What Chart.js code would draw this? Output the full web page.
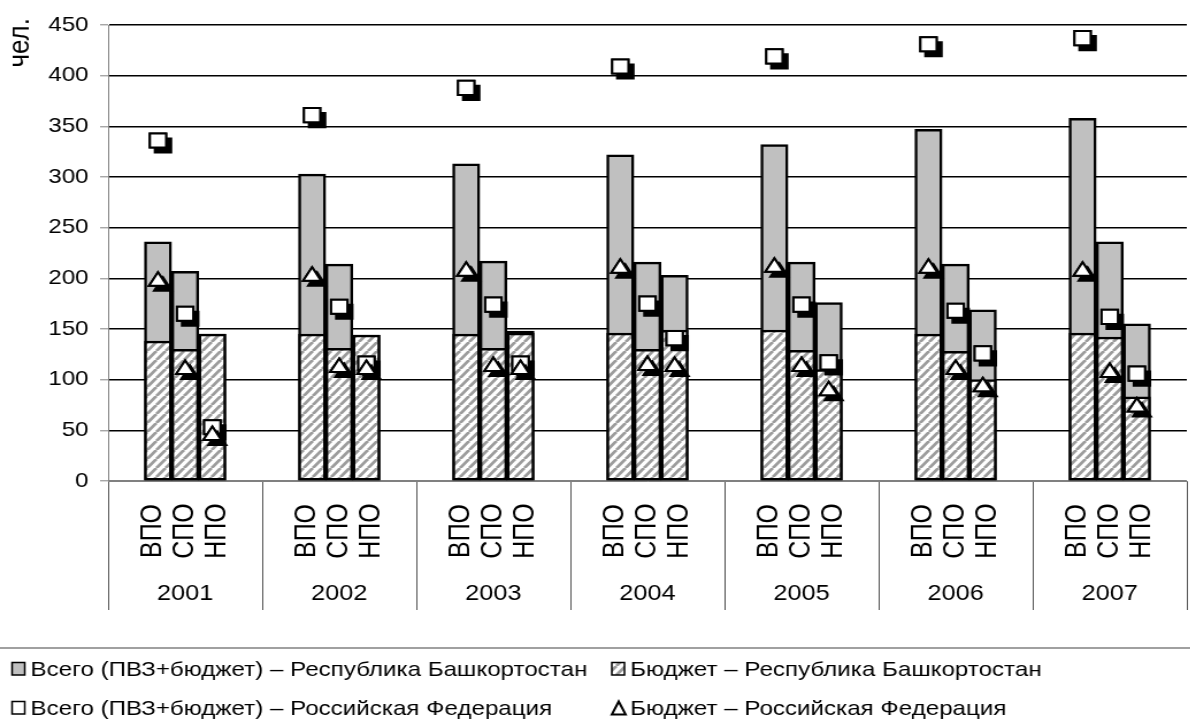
<!DOCTYPE html>
<html>
<head>
<meta charset="utf-8">
<script src="https://cdn.jsdelivr.net/npm/chart.js@4.4.1/dist/chart.umd.min.js"></script>
<style>
  html, body { margin: 0; padding: 0; background: #fff; overflow: hidden; width: 1190px; height: 727px; }
  #wrap { position: absolute; left: 0; top: 0; width: 1044px; height: 727px; transform: scaleX(1.15); transform-origin: 0 0; }
  canvas { display: block; }
</style>
</head>
<body>
<div id="wrap"><canvas id="chart" width="1044" height="727"></canvas></div>
<script>
// Years and education levels (outer and inner category labels)
const years = ['2001', '2002', '2003', '2004', '2005', '2006', '2007'];
const levels = ['ВПО', 'СПО', 'НПО'];

// Values per year, in the order ВПО, СПО, НПО
const rbTotal  = [236, 207, 145,  303, 214, 144,  313, 217, 148,  322, 216, 203,  332, 216, 176,  347, 214, 169,  358, 236, 155];
const rbBudget = [138, 130, 145,  145, 131, 144,  145, 131, 146,  146, 130, 149,  149, 129, 110,  145, 128, 100,  146, 142,  83];
const rfTotal  = [336, 165,  53,  361, 172, 116,  388, 174, 116,  409, 175, 141,  419, 174, 117,  431, 168, 126,  437, 162, 106];
const rfBudget = [197, 110,  45,  202, 112, 110,  207, 113, 110,  210, 114, 113,  211, 113,  89,  210, 110,  93,  207, 107,  73];

const yMax = 450;
const yStep = 50;
const unitLabel = 'чел.';
const legendLabels = [
  'Всего (ПВЗ+бюджет) – Республика Башкортостан',
  'Бюджет – Республика Башкортостан',
  'Всего (ПВЗ+бюджет) – Российская Федерация',
  'Бюджет – Российская Федерация'
];

const FONT = '"Liberation Sans", Arial, sans-serif';
const BAR_STEP = 0.1763;   // spacing of the three bars inside a year, in year units
const LABEL_STEP = 0.21;   // spacing of the rotated level labels

const canvas = document.getElementById('chart');
const ctx2d = canvas.getContext('2d');

// diagonal grey hatching for the budget bars
function makeHatch() {
  const w = 8, h = 9;
  const t = document.createElement('canvas');
  t.width = w; t.height = h;
  const g = t.getContext('2d');
  g.fillStyle = '#fff';
  g.fillRect(0, 0, w, h);
  g.strokeStyle = '#9c9c9c';
  g.lineWidth = 2.8;
  for (const dx of [-w, 0, w]) {
    g.beginPath();
    g.moveTo(dx, h);
    g.lineTo(dx + w, 0);
    g.stroke();
  }
  return ctx2d.createPattern(t, 'repeat');
}
const hatch = makeHatch();

const slotX = i => Math.floor(i / 3) + 0.5 + (i % 3 - 1) * BAR_STEP;
const toPoints = vals => vals.map((v, i) => ({ x: slotX(i), y: v }));

// hard black drop shadow under the markers
const markerShadow = {
  id: 'markerShadow',
  beforeDatasetDraw(chart, args) {
    const ds = chart.data.datasets[args.index];
    if (!ds.dropShadow) return;
    const ctx = chart.ctx;
    ctx.save();
    ctx.shadowColor = '#000';
    ctx.shadowBlur = 0;
    ctx.shadowOffsetX = 4.35;
    ctx.shadowOffsetY = 5;
    args.meta.controller.draw();
    ctx.restore();
  }
};

// two-level category labels, unit label and legend
const decorations = {
  id: 'decorations',
  afterDraw(chart) {
    const ctx = chart.ctx;
    const x = chart.scales.x;
    ctx.save();
    ctx.fillStyle = '#000';
    ctx.textBaseline = 'middle';

    years.forEach((yr, g) => {
      ctx.font = '25px ' + FONT;
      ctx.textAlign = 'center';
      levels.forEach((lv, k) => {
        const px = x.getPixelForValue(g + 0.5 + (k - 1) * LABEL_STEP);
        ctx.save();
        ctx.translate(px, 531);
        ctx.rotate(-Math.PI / 2);
        ctx.fillText(lv, 0, 0);
        ctx.restore();
      });
      ctx.font = '22px ' + FONT;
      ctx.textAlign = 'center';
      ctx.fillText(yr, x.getPixelForValue(g + 0.5), 594);
    });

    // unit label at the top of the value axis
    ctx.save();
    ctx.font = '26px ' + FONT;
    ctx.translate(18, 18);
    ctx.rotate(-Math.PI / 2);
    ctx.textAlign = 'right';
    ctx.fillText(unitLabel, 0, 0);
    ctx.restore();

    // legend
    ctx.strokeStyle = '#808080';
    ctx.lineWidth = 1.5;
    ctx.beginPath();
    ctx.moveTo(0, 648);
    ctx.lineTo(chart.width, 648);
    ctx.stroke();

    const cols = [10.5, 532];
    const rows = [670, 709];
    const items = [
      { col: 0, row: 0, kind: 'box', fill: '#c0c0c0' },
      { col: 1, row: 0, kind: 'box', fill: hatch },
      { col: 0, row: 1, kind: 'box', fill: '#fff' },
      { col: 1, row: 1, kind: 'tri' }
    ];
    ctx.font = '21px ' + FONT;
    ctx.textAlign = 'left';
    items.forEach((it, i) => {
      const bx = cols[it.col];
      const cy = rows[it.row];
      ctx.strokeStyle = '#000';
      ctx.lineWidth = 1.5;
      if (it.kind === 'box') {
        ctx.fillStyle = it.fill;
        ctx.fillRect(bx, cy - 7.5, 11, 12.5);
        ctx.strokeRect(bx, cy - 7.5, 11, 12.5);
      } else {
        ctx.fillStyle = '#fff';
        ctx.lineWidth = 2;
        ctx.beginPath();
        ctx.moveTo(bx + 6, cy - 7.5);
        ctx.lineTo(bx + 12, cy + 5.5);
        ctx.lineTo(bx, cy + 5.5);
        ctx.closePath();
        ctx.fill();
        ctx.stroke();
      }
      ctx.fillStyle = '#000';
      ctx.fillText(legendLabels[i], bx + 16, cy);
    });
    ctx.restore();
  }
};

new Chart(canvas, {
  type: 'bar',
  data: {
    datasets: [
      {
        type: 'bar',
        label: legendLabels[0],
        data: toPoints(rbTotal),
        backgroundColor: '#c0c0c0',
        borderColor: '#000',
        borderWidth: 2.5,
        borderSkipped: false,
        grouped: false,
        categoryPercentage: 1,
        barPercentage: 1,
        order: 3
      },
      {
        type: 'bar',
        label: legendLabels[1],
        data: toPoints(rbBudget),
        backgroundColor: hatch,
        borderColor: '#000',
        borderWidth: 2.5,
        borderSkipped: false,
        grouped: false,
        categoryPercentage: 1,
        barPercentage: 1,
        order: 2
      },
      {
        type: 'scatter',
        label: legendLabels[2],
        data: toPoints(rfTotal),
        pointStyle: 'rect',
        pointRadius: 10,
        pointBackgroundColor: '#fff',
        pointBorderColor: '#000',
        pointBorderWidth: 2,
        dropShadow: true,
        order: 1
      },
      {
        type: 'scatter',
        label: legendLabels[3],
        data: toPoints(rfBudget),
        pointStyle: 'triangle',
        pointRadius: 9,
        pointBackgroundColor: '#fff',
        pointBorderColor: '#000',
        pointBorderWidth: 2,
        dropShadow: true,
        order: 0
      }
    ]
  },
  options: {
    responsive: false,
    animation: false,
    devicePixelRatio: 1,
    events: [],
    layout: { padding: { top: 25, bottom: 117, left: 0, right: 0 } },
    plugins: { legend: { display: false }, tooltip: { enabled: false } },
    scales: {
      x: {
        type: 'linear',
        min: 0,
        max: years.length,
        offset: false,
        ticks: { display: false, stepSize: 1 },
        grid: { offset: false, drawOnChartArea: false, drawTicks: true, tickLength: 129, tickColor: '#555', tickWidth: 1 },
        border: { color: '#808080', width: 1 }
      },
      y: {
        min: 0,
        max: yMax,
        ticks: { stepSize: yStep, color: '#000', padding: 10, font: { size: 21, family: FONT } },
        grid: {
          color: c => (c.tick && c.tick.value === 0 ? '#808080' : '#000'),
          lineWidth: 1.6,
          tickColor: '#808080',
          tickLength: 7,
          tickWidth: 1
        },
        border: { color: '#808080', width: 1 },
        afterFit(scale) { scale.width = 94; }
      }
    }
  },
  plugins: [markerShadow, decorations]
});
</script>
</body>
</html>
